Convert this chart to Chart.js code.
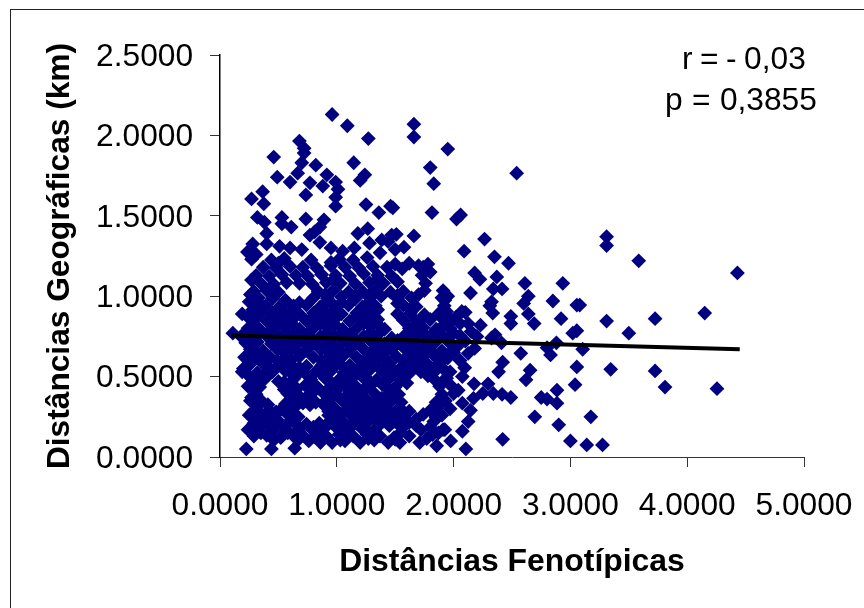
<!DOCTYPE html>
<html lang="pt">
<head>
<meta charset="utf-8">
<title>Distâncias Fenotípicas x Geográficas</title>
<script src="https://cdn.jsdelivr.net/npm/chart.js@4"></script>
<style>
  body { margin: 0; background: #fff; }
  #quadro { position: relative; width: 864px; height: 608px; overflow: hidden; }
  #moldura { position: absolute; left: 10px; top: 9px; width: 900px; height: 700px; border: 1px solid #222; }
  .nota { position: absolute; font: 31.7px "Liberation Sans", Arial, sans-serif; color: #000; white-space: nowrap; }
</style>
</head>
<body>
<div id="quadro">
  <canvas id="grafico" width="864" height="608"></canvas>
  <div id="moldura"></div>
  <div class="nota" style="left:682px;top:40px;word-spacing:-1.3px">r = - 0,03</div>
  <div class="nota" style="left:665px;top:81px;word-spacing:0.6px">p = 0,3855</div>
</div>
<script>
// valores, [fenotipica, geografica]
const nuvemBaixa = [
  [.225,.05],[.44,.05],[.64,.055],[.76,.1],[.86,.09],[.96,.09],[1.07,.1],[1.2,.09],[1.32,.105],[1.44,.09],[1.54,.09],[1.71,.09],[1.855,.07],
  [.29,.13],[.4,.135],[.52,.12],[.63,.13],[.7,.14],[.81,.125],[.91,.13],[1.02,.14],[1.14,.13],[1.26,.14],[1.37,.13],[1.49,.12],[1.62,.13],[1.82,.14],
  [.24,.17],[.34,.18],[.46,.165],[.57,.17],[.68,.18],[.79,.17],[.89,.175],[1,.18],[1.1,.17],[1.21,.18],[1.32,.165],[1.56,.18],[1.72,.17],[1.8,.185],[1.91,.17],
  [.29,.21],[.4,.22],[.52,.21],[.63,.22],[.74,.205],[.85,.21],[.95,.22],[1.06,.215],[1.17,.21],[1.27,.22],[1.38,.21],[1.5,.22],[1.62,.215],[1.83,.22],
  [.25,.26],[.36,.255],[.47,.26],[.58,.265],[.67,.25],[.93,.26],[1.03,.265],[1.13,.255],[1.25,.26],[1.36,.27],[1.46,.26],[1.57,.25],[1.74,.265],[1.9,.26],
  [.31,.3],[.42,.29],[.53,.3],[.64,.31],[.98,.305],[1.09,.3],[1.2,.31],[1.31,.3],[1.42,.305],[1.52,.295],[1.62,.285],[1.8,.29],[1.97,.3],
  [.26,.35],[.36,.345],[.61,.35],[.71,.335],[.82,.34],[.93,.35],[1.04,.355],[1.15,.345],[1.26,.35],[1.37,.34],[1.47,.35],[1.55,.34],[1.85,.34],[1.93,.35],
  [.31,.39],[.58,.395],[.67,.385],[.78,.39],[.89,.395],[1,.385],[1.11,.39],[1.22,.4],[1.33,.39],[1.43,.385],[1.53,.39],[1.9,.39],[2,.395]
];
const nuvemMedia = [
  [.24,.44],[.34,.435],[.6,.44],[.73,.445],[.84,.43],[.95,.44],[1.06,.445],[1.17,.435],[1.28,.44],[1.39,.45],[1.5,.435],[1.88,.44],[1.97,.45],
  [.29,.48],[.39,.49],[.5,.47],[.63,.485],[.78,.48],[.9,.49],[1.01,.475],[1.12,.48],[1.23,.49],[1.34,.48],[1.45,.49],[1.55,.475],[1.84,.48],[1.94,.49],
  [.19,.53],[.32,.525],[.45,.53],[.56,.535],[.68,.525],[.82,.53],[.95,.535],[1.06,.525],[1.17,.53],[1.28,.54],[1.4,.525],[1.5,.53],[1.62,.52],[1.72,.53],[1.83,.525],[1.93,.535],
  [.25,.57],[.37,.58],[.5,.57],[.61,.575],[.74,.565],[.87,.57],[1,.58],[1.11,.57],[1.22,.575],[1.34,.57],[1.45,.58],[1.56,.565],[1.67,.57],[1.78,.575],[1.88,.57],
  [.21,.62],[.31,.615],[.43,.62],[.55,.61],[.68,.625],[.8,.62],[.93,.615],[1.05,.625],[1.17,.62],[1.28,.61],[1.4,.62],[1.51,.625],[1.62,.615],[1.73,.62],[1.84,.625],[1.95,.615],
  [.26,.67],[.37,.66],[.49,.67],[.61,.675],[.74,.665],[.86,.67],[.99,.675],[1.11,.665],[1.23,.67],[1.35,.66],[1.47,.67],[1.58,.675],[1.68,.665],[1.79,.67],[1.9,.66],[2,.67],
  [.22,.71],[.32,.715],[.44,.705],[.55,.71],[.68,.72],[.8,.71],[.92,.705],[1.05,.715],[1.17,.71],[1.29,.72],[1.41,.705],[1.53,.71],[1.63,.715],[1.74,.705],[1.84,.71],[1.95,.72],
  [.11,.77],[.18,.75],[.28,.755],[.39,.76],[.5,.75],[.62,.755],[.74,.76],[.86,.75],[.98,.755],[1.11,.76],[1.23,.75],[1.35,.76],[1.47,.74],[1.58,.755],[1.69,.76],[1.8,.75],[1.9,.76],
  [.24,.8],[.34,.795],[.45,.8],[.56,.805],[.68,.795],[.8,.8],[.92,.805],[1.05,.795],[1.17,.8],[1.29,.81],[1.41,.795],[1.62,.8],[1.74,.805],[1.85,.795],[1.97,.8]
];
const nuvemAlta = [
  [.29,.85],[.4,.845],[.51,.85],[.62,.855],[.74,.845],[.86,.85],[.98,.855],[1.11,.845],[1.23,.85],[1.35,.855],[1.57,.85],[1.68,.845],[1.8,.855],[1.92,.85],
  [.19,.89],[.34,.89],[.45,.895],[.57,.885],[.68,.89],[.8,.895],[.92,.885],[1.04,.89],[1.17,.895],[1.29,.885],[1.52,.89],[1.63,.895],[1.75,.885],[1.87,.89],
  [.25,.965],[.39,.94],[.51,.935],[.63,.94],[.74,.945],[.86,.935],[.98,.94],[1.1,.945],[1.22,.935],[1.33,.94],[1.57,.945],[1.68,.935],[1.92,.94],
  [.33,.99],[.45,.985],[.56,.975],[.8,.99],[.92,.985],[1.04,.995],[1.16,.985],[1.28,.99],[1.38,1],[1.52,.985],[1.64,.99],[1.7,1.01],[1.9,.99],
  [.29,1.03],[.4,1.035],[.5,1.025],[.84,1.03],[.97,1.035],[1.1,1.025],[1.22,1.03],[1.34,1.04],[1.46,1.025],[1.57,1.03],[1.75,1.035],
  [.35,1.08],[.46,1.075],[.57,1.085],[.68,1.08],[.79,1.075],[.91,1.085],[1.03,1.08],[1.16,1.075],[1.28,1.085],[1.4,1.08],[1.52,1.09],[1.76,1.08],
  [.31,1.13],[.42,1.125],[.53,1.135],[.65,1.13],[.75,1.125],[.87,1.135],[.99,1.13],[1.11,1.125],[1.23,1.14],[1.35,1.13],[1.47,1.125],[1.73,1.13],[1.8,1.15],
  [.37,1.18],[.48,1.175],[.6,1.185],[.71,1.18],[.83,1.175],[.95,1.19],[1.07,1.18],[1.19,1.175],[1.31,1.185],[1.43,1.18],[1.56,1.17],[1.74,1.18],
  [.27,1.23],[.44,1.225],[.55,1.235],[.78,1.225],[1.02,1.23],[1.14,1.225],[1.26,1.24],[1.7,1.19],[1.78,1.2]
];
// pontos que fecham a massa central
const nuvemExtra = [
  [.46,.105],[.68,.115],[1.03,.105],[1.27,.115],[1.5,.11],[1.77,.115],
  [.35,.15],[.58,.15],[.86,.15],[1.08,.15],[1.31,.145],[1.55,.155],[1.87,.15],
  [.44,.19],[.56,.195],[.8,.185],[.9,.195],[1.12,.195],[1.23,.185],[1.45,.195],[1.68,.195],
  [.31,.24],[.43,.235],[.64,.245],[.98,.24],[1.2,.24],[1.31,.245],[1.42,.235],[1.68,.235],[1.85,.245],
  [.28,.28],[.48,.28],[.59,.275],[.93,.285],[1.15,.275],[1.26,.285],[1.37,.28],[1.56,.29],[1.85,.28],
  [.31,.33],[.41,.325],[.56,.33],[.77,.325],[.88,.33],[1.09,.325],[1.2,.33],[1.31,.335],[1.42,.325],[1.88,.325],
  [.27,.37],[.63,.37],[.73,.365],[.95,.37],[1.06,.365],[1.17,.375],[1.38,.365],[1.48,.375],
  [.29,.42],[.55,.42],[.66,.425],[.78,.415],[1.01,.425],[1.12,.415],[1.23,.42],[1.45,.415],
  [.34,.46],[.55,.465],[.8,.455],[.95,.465],[1.06,.46],[1.29,.465],[1.4,.46],[1.6,.46],[1.9,.465],
  [.24,.51],[.37,.505],[.62,.515],[.75,.505],[.88,.51],[1.12,.505],[1.23,.51],[1.46,.505],[1.57,.51],[1.78,.505],
  [.2,.55],[.43,.55],[.56,.545],[.68,.555],[.94,.545],[1.06,.555],[1.28,.545],[1.4,.555],[1.62,.545],[1.73,.555],[1.83,.55],
  [.26,.6],[.49,.6],[.61,.605],[.87,.6],[.99,.605],[1.23,.6],[1.34,.605],[1.57,.6],[1.68,.605],[1.9,.6],
  [.31,.645],[.55,.65],[.68,.645],[.93,.65],[1.05,.645],[1.29,.65],[1.41,.645],[1.63,.65],[1.74,.645],
  [.27,.69],[.5,.685],[.62,.69],[.74,.695],[.98,.69],[1.11,.695],[1.35,.69],[1.47,.695],[1.69,.69],[1.79,.695],
  [.23,.73],[.44,.725],[.56,.73],[.8,.725],[.92,.73],[1.17,.725],[1.29,.73],[1.52,.725],[1.63,.73],[1.85,.725],
  [.22,.775],[.34,.77],[.56,.775],[.68,.77],[.92,.775],[1.05,.77],[1.29,.775],[1.64,.78],[1.74,.775],
  [.29,.825],[.51,.83],[.62,.825],[.86,.83],[.98,.825],[1.23,.83],[1.35,.825],[1.68,.82],[1.92,.825],
  [.24,.87],[.46,.875],[.57,.87],[.8,.875],[.92,.87],[1.17,.875],[1.29,.87],[1.75,.875],
  [.28,.915],[.51,.92],[.63,.915],[.86,.92],[.98,.915],[1.22,.92],[1.35,.915],[1.63,.92],
  [.33,.96],[.57,.965],[.68,.96],[.92,.965],[1.04,.96],[1.28,.965],[1.52,.955],
  [.26,1.01],[.46,1.005],[.9,1.01],[1.16,1.005],[1.28,1.01],[1.52,1.005],
  [.27,1.1],[.97,1.1],[1.35,1.105],
  [.5,1.205],[.95,1.21],[1.5,1.2],[1.62,1.205],
  [2.1,.72],[2.15,.78],[2,.65],[2.05,.7],[1.98,.85],[2.1,.9],[1.95,1],[2.2,.75]
];
const pontosTopo = [
  [.96,2.13],[1.09,2.06],[1.27,1.98],[1.66,2.07],[1.66,1.99],[1.95,1.915],[.68,1.965],[.72,1.92],[.72,1.89],[.46,1.865],[.7,1.83],[.82,1.815],[1.145,1.83],[1.8,1.8],
  [.665,1.765],[.49,1.74],[.6,1.71],[.915,1.755],[.77,1.705],[.88,1.685],[.99,1.71],[1.01,1.665],[.99,1.615],[.99,1.56],[1.2,1.72],[1.24,1.755],[1.83,1.7],[.735,1.63],
  [.365,1.65],[.27,1.605],[.375,1.575],[1.25,1.57],[1.36,1.52],[1.46,1.56],[1.48,1.55],[1.815,1.52],[.32,1.49],[.38,1.46],[.53,1.49],[.53,1.45],[.61,1.43],[.735,1.48],
  [.89,1.475],[.855,1.43],[.81,1.4],[.77,1.38],[.855,1.335],[.4,1.39],[.4,1.325],[.28,1.325],[.235,1.275],[.31,1.26],[.51,1.31],[1.265,1.42],[1.18,1.39],[1.28,1.33],
  [1.385,1.35],[1.47,1.38],[1.51,1.385],[1.44,1.34],[1.66,1.375],[1.575,1.305],[.6,1.3],[.7,1.29],[.95,1.3],[1.05,1.28],[1.15,1.3],[1.37,1.27],[1.5,1.29]
];
const pontosDireita = [
  [2.54,1.765],[2.025,1.48],[2.06,1.505],[2.265,1.355],[2.09,1.28],[2.35,1.245],[2.47,1.205],[3.31,1.37],[3.31,1.315],[3.585,1.22],[4.43,1.145],[2.18,1.145],[2.225,1.105],
  [2.37,1.12],[2.415,1.045],[2.34,1.045],[2.61,1.08],[2.935,1.08],[2.145,1.02],[1.91,1.035],[2.85,.97],[3.055,.945],[3.08,.945],[2.64,1],[2.6,.955],[2.325,.965],[2.31,.94],
  [2.335,.895],[2.49,.875],[2.49,.83],[2.64,.89],[2.69,.83],[2.92,.86],[3.31,.845],[3.725,.86],[4.15,.895],[3.5,.77],[3.055,.785],[3.02,.77],[2.23,.82],[2.325,.74],[2.355,.76],
  [2.41,.71],[2.88,.71],[2.8,.68],[2.83,.635],[3.105,.67],[2.575,.645],[3.055,.56],[3.345,.545],[3.725,.535],[3.81,.435],[4.255,.425],[3.04,.45],[2.42,.59],[2.385,.53],
  [2.655,.54],[2.62,.48],[2.885,.415],[2.75,.37],[2.8,.36],[2.885,.335],[2.695,.25],[3.175,.25],[2.9,.2],[3,.1],[3.14,.075],[3.275,.075],[2.42,.11],[2.105,.05],[1.975,.1],
  [2.075,.16],[2.125,.22],[2.145,.29],[2.075,.335],[2.17,.365],[2.25,.395],[2.295,.455],[2.34,.395],[2.415,.39],[2.49,.37],[2.175,.455],[2.04,.415],[1.925,.17],[2.075,.5],
  [2.095,.555],[2.055,.6],[2.125,.645],[2.18,.675],[1.97,.53],[2.07,.905],[2.125,.83],[2.055,.83],[2,.77],[2.055,.755],[1.925,.975],[1.94,.905],[2.02,.87]
];
const tendenciaX = [0.10, 4.45];
const tendenciaY = [0.755, 0.67];

const corPonto = '#000080';
const corEixo = '#333333';
const fonte = '"Liberation Sans", Arial, sans-serif';

const pontos = [...nuvemBaixa, ...nuvemMedia, ...nuvemAlta, ...nuvemExtra, ...pontosTopo, ...pontosDireita];

new Chart(document.getElementById('grafico'), {
  type: 'scatter',
  data: {
    datasets: [
      {
        type: 'line',
        data: tendenciaX.map((x, i) => ({ x: x, y: tendenciaY[i] })),
        borderColor: '#000',
        borderWidth: 4,
        pointRadius: 0,
        fill: false,
        order: 1
      },
      {
        data: pontos.map(p => ({ x: p[0], y: p[1] })),
        pointStyle: 'rectRot',
        pointRadius: 7.4,
        pointHoverRadius: 7.4,
        backgroundColor: corPonto,
        borderColor: corPonto,
        borderWidth: 0,
        clip: false,
        order: 2
      }
    ]
  },
  options: {
    responsive: false,
    animation: false,
    layout: { autoPadding: false, padding: { left: 0, right: 60, top: 55, bottom: 0 } },
    plugins: { legend: { display: false }, tooltip: { enabled: false } },
    scales: {
      x: {
        type: 'linear',
        min: 0,
        max: 5,
        // a folga do ultimo rotulo nao deve encolher a area do grafico
        afterFit: s => { s.height = 151; s.paddingRight = 0; },
        afterBuildTicks: s => { s.ticks = [0, 1, 2, 3, 4, 5].map(v => ({ value: v })); },
        border: { color: corEixo, width: 1 },
        grid: { drawOnChartArea: false, color: corEixo, tickLength: 10 },
        ticks: {
          callback: v => v.toFixed(4),
          color: '#000',
          maxRotation: 0,
          autoSkip: false,
          padding: 20,
          font: { family: fonte, size: 31.7 }
        },
        title: {
          display: true,
          text: 'Distâncias Fenotípicas',
          color: '#000',
          font: { family: fonte, size: 31.9, weight: 'bold' },
          padding: { top: 0, bottom: 27 }
        }
      },
      y: {
        type: 'linear',
        min: 0,
        max: 2.5,
        afterFit: s => { s.width = 220; },
        afterBuildTicks: s => { s.ticks = [0, .5, 1, 1.5, 2, 2.5].map(v => ({ value: v })); },
        border: { color: '#000', width: 1.5 },
        grid: { drawOnChartArea: false, color: corEixo, tickLength: 10 },
        ticks: {
          callback: v => v.toFixed(4),
          color: '#000',
          autoSkip: false,
          padding: 17,
          labelOffset: 2,
          font: { family: fonte, size: 31.7 }
        },
        title: {
          display: true,
          text: 'Distâncias Geográficas (km)',
          color: '#000',
          font: { family: fonte, size: 31.7, weight: 'bold' },
          padding: { top: 41, bottom: 0 }
        }
      }
    }
  }
});
</script>
</body>
</html>
